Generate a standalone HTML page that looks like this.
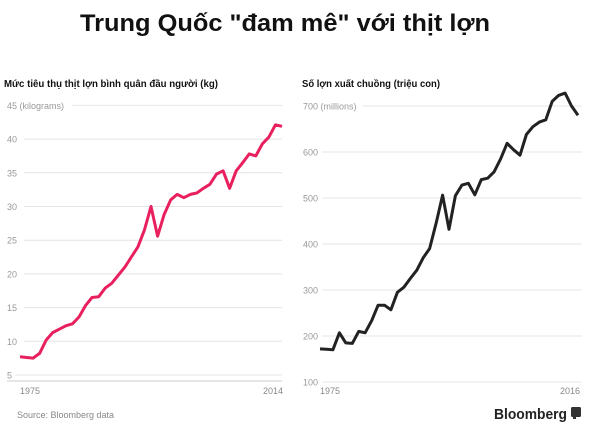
<!DOCTYPE html>
<html><head><meta charset="utf-8">
<style>
html,body{margin:0;padding:0;background:#fff;}
svg{display:block;}
</style></head>
<body>
<svg id="s" width="600" height="435" xmlns="http://www.w3.org/2000/svg" font-family="Liberation Sans, sans-serif">
<rect width="600" height="435" fill="#fff"/>
<text x="285" y="31" text-anchor="middle" font-size="24" font-weight="bold" fill="#111" textLength="410" lengthAdjust="spacingAndGlyphs">Trung Quốc "đam mê" với thịt lợn</text>
<text x="4" y="87" font-size="10" font-weight="bold" fill="#111" textLength="214" lengthAdjust="spacingAndGlyphs">Mức tiêu thụ thịt lợn bình quân đầu người (kg)</text>
<text x="302" y="87" font-size="10" font-weight="bold" fill="#111" textLength="138" lengthAdjust="spacingAndGlyphs">Số lợn xuất chuồng (triệu con)</text>
<g id="grid"></g>
<polyline id="p1" fill="none" stroke="#e8205e" stroke-width="3" stroke-linejoin="round"/>
<polyline id="p2" fill="none" stroke="#222" stroke-width="3" stroke-linejoin="round"/>
<text x="20" y="394" font-size="9" fill="#888">1975</text>
<text x="283" y="394" font-size="9" fill="#888" text-anchor="end">2014</text>
<text x="320" y="394" font-size="9" fill="#888">1975</text>
<text x="580" y="394" font-size="9" fill="#888" text-anchor="end">2016</text>
<text x="17" y="418" font-size="9" fill="#888">Source: Bloomberg data</text>
<text x="494" y="419" font-size="15" font-weight="bold" fill="#222" textLength="73" lengthAdjust="spacingAndGlyphs">Bloomberg</text>
<rect x="571" y="407" width="10" height="10" rx="1.5" fill="#333"/>
<rect x="573" y="416" width="3" height="3" fill="#333"/>
</svg>
<script>
var ns="http://www.w3.org/2000/svg",g=document.getElementById('grid');
function el(t,a,txt){var e=document.createElementNS(ns,t);for(var k in a)e.setAttribute(k,a[k]);if(txt)e.textContent=txt;g.appendChild(e);}
// left grid
for(var v=5;v<=45;v+=5){var y=375-(v-5)*6.74;
 var lab=v==45?"45 (kilograms)":String(v);
 el('line',{x1:v==45?72:(v<10?15:24),x2:282,y1:y,y2:y,stroke:"#e4e4e4","stroke-width":1});
 el('text',{x:7,y:y+3.5,"font-size":9,fill:"#999"},lab);}
el('line',{x1:7,x2:282,y1:381,y2:381,stroke:"#ccc","stroke-width":1});
for(var v=100;v<=700;v+=100){var y=382-(v-100)*0.46;
 var lab=v==700?"700 (millions)":String(v);
 el('line',{x1:v==700?363:322,x2:582,y1:y,y2:y,stroke:"#e4e4e4","stroke-width":1});
 el('text',{x:303,y:y+3.5,"font-size":9,fill:"#999"},lab);}
var a=[7.7,7.6,7.5,8.2,10.2,11.3,11.8,12.3,12.6,13.6,15.3,16.5,16.6,17.9,18.6,19.8,21.0,22.5,24.0,26.5,30.0,25.6,28.8,31.0,31.8,31.3,31.8,32.0,32.7,33.3,34.8,35.3,32.7,35.3,36.5,37.8,37.5,39.3,40.3,42.1,41.9];
var b=[172,171,170,207,185,184,210,207,233,267,267,257,295,306,325,343,370,390,445,506,432,505,528,532,507,540,543,557,585,619,605,593,638,655,665,670,710,723,728,700,680];
var p=a.map(function(v,i){return (20+i*262/(a.length-1)).toFixed(1)+","+(375-(v-5)*6.74).toFixed(1)}).join(" ");
document.getElementById('p1').setAttribute('points',p);
var q=b.map(function(v,i){return (320+i*258/(b.length-1)).toFixed(1)+","+(382-(v-100)*0.46).toFixed(1)}).join(" ");
document.getElementById('p2').setAttribute('points',q);
</script>
</body></html>
